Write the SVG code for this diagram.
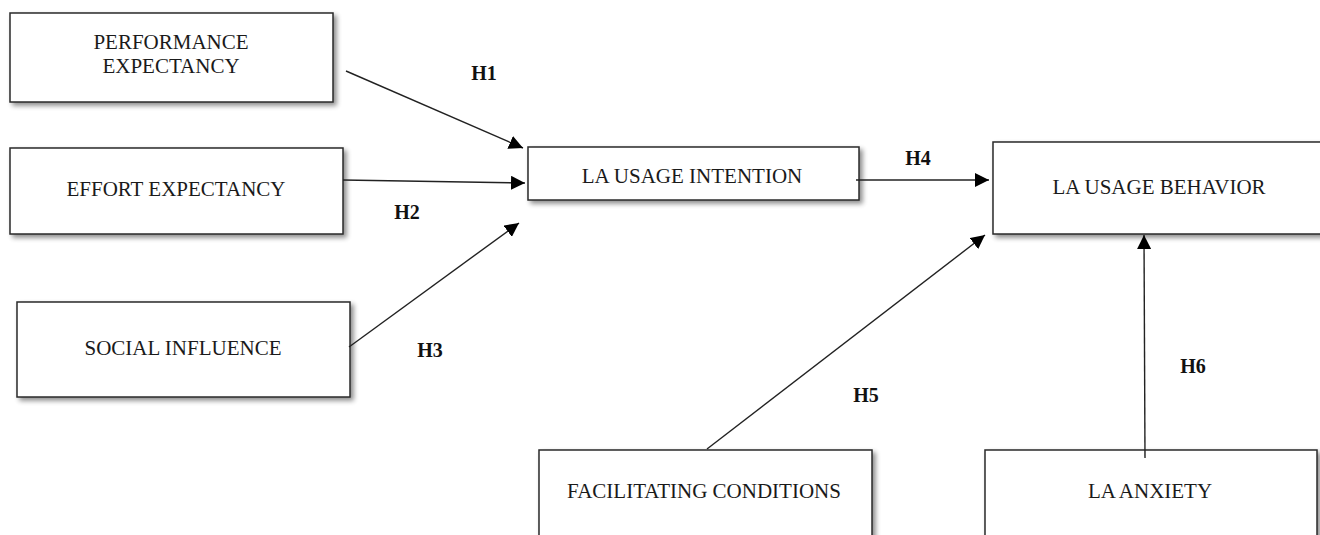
<svg xmlns="http://www.w3.org/2000/svg" width="1320" height="535" viewBox="0 0 1320 535">
  <style>
    .box { fill: #ffffff; stroke: #2a2a2a; stroke-width: 1.5; filter: url(#shadow); }
    .lbl { font-family: "Liberation Serif", "Times New Roman", serif; font-size: 21px; fill: #1a1a1a; text-anchor: middle; }
    .hyp { font-family: "Liberation Serif", "Times New Roman", serif; font-size: 20px; font-weight: bold; fill: #111111; text-anchor: middle; }
    .conn { stroke: #222222; stroke-width: 1.4; fill: none; marker-end: url(#arrow); }
  </style>
  <defs>
    <filter id="shadow" x="-10%" y="-20%" width="130%" height="150%">
      <feGaussianBlur in="SourceAlpha" stdDeviation="2.5"/>
      <feOffset dx="3" dy="3" result="b"/>
      <feComponentTransfer><feFuncA type="linear" slope="0.45"/></feComponentTransfer>
      <feMerge><feMergeNode/><feMergeNode in="SourceGraphic"/></feMerge>
    </filter>
    <marker id="arrow" viewBox="0 0 12 12" refX="12" refY="6" markerWidth="14" markerHeight="14" markerUnits="userSpaceOnUse" orient="auto">
      <path d="M0,0 L12,6 L0,12 Z" fill="#000000"/>
    </marker>
  </defs>
  <rect width="1320" height="535" fill="#ffffff"/>

  <g id="performance-expectancy">
    <rect class="box" x="10" y="13" width="323" height="89"/>
    <text class="lbl" x="171" y="49">PERFORMANCE</text>
    <text class="lbl" x="171" y="73">EXPECTANCY</text>
  </g>
  <g id="effort-expectancy">
    <rect class="box" x="10" y="148" width="333" height="86"/>
    <text class="lbl" x="176" y="196">EFFORT EXPECTANCY</text>
  </g>
  <g id="social-influence">
    <rect class="box" x="17" y="302" width="333" height="95"/>
    <text class="lbl" x="183" y="355">SOCIAL INFLUENCE</text>
  </g>
  <g id="usage-intention">
    <rect class="box" x="528" y="147" width="331" height="53"/>
    <text class="lbl" x="692" y="183">LA USAGE INTENTION</text>
  </g>
  <g id="usage-behavior">
    <rect class="box" x="993" y="142" width="340" height="92"/>
    <text class="lbl" x="1159" y="194">LA USAGE BEHAVIOR</text>
  </g>
  <g id="facilitating-conditions">
    <rect class="box" x="539" y="450" width="333" height="110"/>
    <text class="lbl" x="704" y="498">FACILITATING CONDITIONS</text>
  </g>
  <g id="la-anxiety">
    <rect class="box" x="985" y="450" width="332" height="110"/>
    <text class="lbl" x="1150" y="498">LA ANXIETY</text>
  </g>

  <g id="connectors">
    <line class="conn" x1="346" y1="71" x2="523" y2="148"/>
    <line class="conn" x1="343" y1="180" x2="525" y2="183"/>
    <line class="conn" x1="349" y1="347" x2="519" y2="223"/>
    <line class="conn" x1="856" y1="180" x2="989" y2="180"/>
    <line class="conn" x1="707" y1="449" x2="985" y2="235"/>
    <line class="conn" x1="1145" y1="458" x2="1144" y2="235"/>
    <text class="hyp" x="484" y="80">H1</text>
    <text class="hyp" x="407" y="219">H2</text>
    <text class="hyp" x="430" y="357">H3</text>
    <text class="hyp" x="918" y="165">H4</text>
    <text class="hyp" x="866" y="402">H5</text>
    <text class="hyp" x="1193" y="373">H6</text>
  </g>
</svg>
